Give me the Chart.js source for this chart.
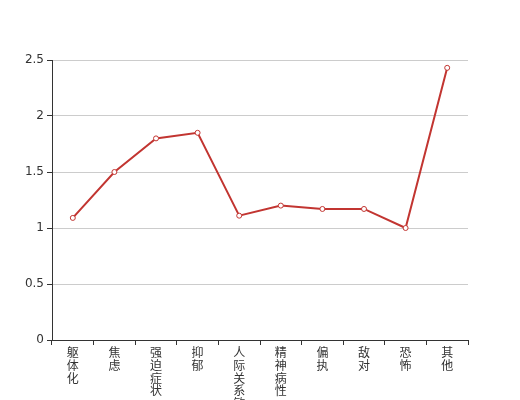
<!DOCTYPE html>
<html>
<head>
<meta charset="utf-8">
<script src="https://cdn.jsdelivr.net/npm/chart.js@4/dist/chart.umd.min.js"></script>
<style>
html,body{margin:0;padding:0;background:#fff;}
#wrap{width:520px;height:400px;position:relative;}
</style>
</head>
<body>
<div id="wrap"><canvas id="c" width="520" height="400"></canvas></div>
<script>
const categories = ['躯体化','焦虑','强迫症状','抑郁','人际关系敏感','精神病性','偏执','敌对','恐怖','其他'];
const values = [1.09, 1.5, 1.8, 1.85, 1.11, 1.2, 1.17, 1.17, 1.0, 2.43];
const yTicks = [0, 0.5, 1, 1.5, 2, 2.5];

const FONT = "'DejaVu Sans', 'Noto Sans CJK SC', sans-serif";
const labels = categories.map(s => Array.from(s));

new Chart(document.getElementById('c'), {
  type: 'line',
  data: {
    labels: labels,
    datasets: [{
      data: values,
      borderColor: '#c23531',
      backgroundColor: '#fff',
      borderWidth: 2,
      pointRadius: 2.5,
      pointBorderWidth: 1,
      pointBackgroundColor: '#fff',
      pointBorderColor: '#c23531',
      tension: 0,
      fill: false
    }]
  },
  options: {
    responsive: false,
    animation: false,
    layout: { padding: { left: 0, right: 52, top: 60, bottom: 0 } },
    plugins: { legend: { display: false }, tooltip: { enabled: false } },
    scales: {
      x: {
        type: 'category',
        offset: true,
        grid: { offset: true, drawOnChartArea: false, drawTicks: true, tickLength: 5, tickColor: '#333', lineWidth: 1 },
        border: { display: true, color: '#333', width: 1 },
        ticks: {
          autoSkip: false, maxRotation: 0, minRotation: 0, padding: 2,
          color: '#333', font: { family: FONT, size: 12, lineHeight: 1.08 }
        },
        afterFit: s => { s.height = 60; }
      },
      y: {
        min: 0, max: 2.5,
        afterBuildTicks: s => { s.ticks = yTicks.map(v => ({ value: v })); },
        grid: { color: '#ccc', tickColor: '#333', tickLength: 5, lineWidth: 1 },
        border: { display: true, color: '#333', width: 1 },
        ticks: {
          padding: 3, color: '#333', font: { family: FONT, size: 12 },
          callback: v => String(v)
        },
        afterFit: s => { s.width = 52; }
      }
    }
  }
});
</script>
</body>
</html>
